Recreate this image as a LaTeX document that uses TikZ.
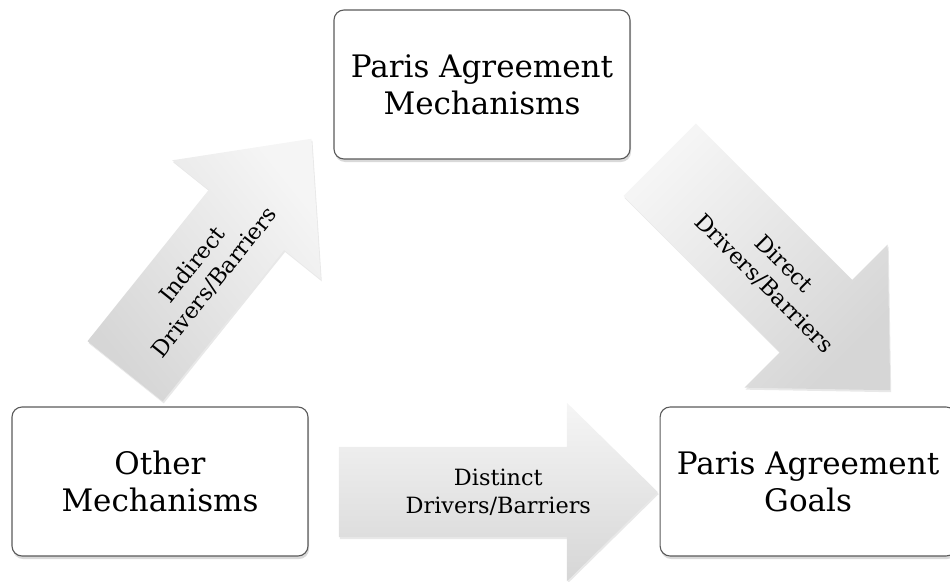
\documentclass[tikz,border=0pt]{standalone}
\usepackage{fontspec}
\setmainfont{DejaVu Serif}
\usetikzlibrary{positioning,shapes.arrows,shadows,backgrounds}
\definecolor{boxline}{RGB}{90,90,90}
\definecolor{arrtop}{RGB}{245,245,245}
\definecolor{arrbot}{RGB}{214,214,214}

\begin{document}
\begin{tikzpicture}[x=1pt,y=-1pt,
  box/.style={draw=boxline, line width=1.1pt, rounded corners=10pt, fill=white, minimum width=296pt, minimum height=149pt, align=center, font=\fontsize{31}{37}\selectfont, drop shadow={opacity=.3, shadow xshift=1pt, shadow yshift=-3pt}},
  bigarrow/.style={single arrow, inner xsep=0pt, top color=arrtop, bottom color=arrbot, drop shadow={opacity=.18, shadow xshift=1pt, shadow yshift=-2pt}},
  lbl/.style={align=center, font=\fontsize{22.4}{28}\selectfont, inner sep=0pt}]
\useasboundingbox (0,0) rectangle (950,581);

% boxes
\node[box] (pam) at (482,84.5) {Paris Agreement\\Mechanisms};
\node[box] (om) at (160,481.5) {Other\\Mechanisms};
\node[box, right=351pt of om] (pag) {Paris Agreement\\Goals};

% block arrows between the boxes
\begin{pgfonlayer}{background}
\node[bigarrow, anchor=tail, rotate=51.3, shading angle=-51.3, inner ysep=48pt, minimum height=298pt, minimum width=190pt, single arrow head extend=47pt, single arrow tip angle=85] (ind) at ([xshift=-35pt, yshift=35pt] om.north) {};
\node[bigarrow, anchor=tail, rotate=-45, shading angle=45, inner ysep=51pt, minimum height=326pt, minimum width=201pt, single arrow head extend=50pt, single arrow tip angle=88] (dir) at ([xshift=29pt, yshift=0pt] pam.south east) {};
\node[bigarrow, anchor=tail, inner ysep=45pt, minimum height=319pt, minimum width=178pt, single arrow head extend=44pt, single arrow tip angle=89] (dis) at ([xshift=30pt, yshift=-10.5pt] om.east) {};
\end{pgfonlayer}

\path (ind.tail) -- (ind.tip) node[lbl, pos=.42, sloped] (indl) {Indirect\\Drivers/Barriers};
\path (dir.tail) -- (dir.tip) node[lbl, pos=.495, sloped] (dirl) {Direct\\Drivers/Barriers};
\path (dis.tail) -- (dis.tip) node[lbl, pos=.5] (disl) {Distinct\\Drivers/Barriers};
\end{tikzpicture}
\end{document}
